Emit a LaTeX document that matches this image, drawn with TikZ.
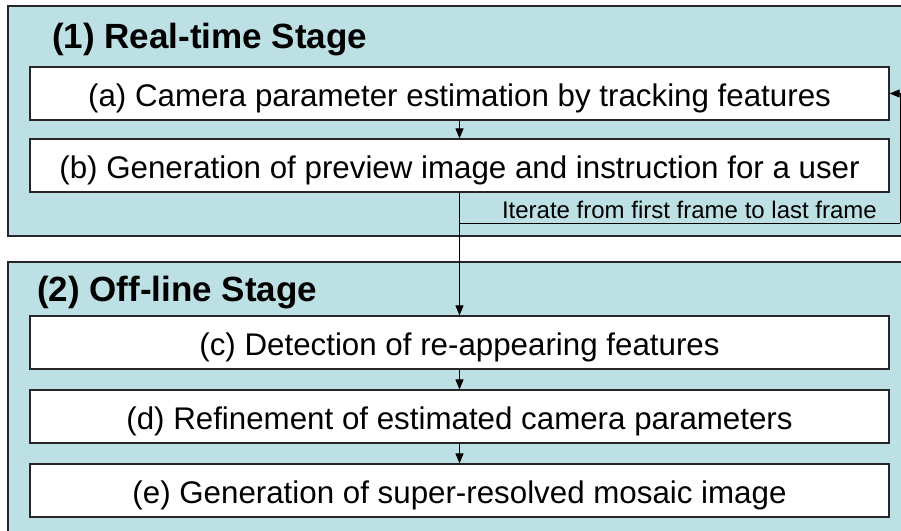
\documentclass[tikz,border=0pt]{standalone}
\usepackage{fontspec}
\setmainfont{Liberation Sans}
\usetikzlibrary{arrows.meta}
\definecolor{stagecyan}{RGB}{188,224,227}
\begin{document}
\begin{tikzpicture}[x=1pt,y=-1pt,
  panel/.style={draw=black!85,line width=1.2pt,fill=stagecyan},
  stepbox/.style={draw=black!85,line width=1.2pt,fill=white,minimum width=859pt,minimum height=53pt,inner sep=0pt,text height=36pt,text depth=10pt,font=\fontsize{31.3}{37}\selectfont},
  stagetitle/.style={anchor=west,inner sep=0pt,font=\fontsize{35}{40}\selectfont\bfseries},
  flow/.style={line width=1pt,-{Triangle[length=10pt,width=8pt]}}]
\useasboundingbox (0,0) rectangle (901,530);
\clip (0,0) rectangle (901,530);
% stages
\draw[panel] (8,6) rectangle (930,236);
\draw[panel] (8,262) rectangle (930,560);
\node[stagetitle] (t1) at (52,40) {(1) Real-time Stage};
\node[stagetitle] (t2) at (37,293) {(2) Off-line Stage};
% steps
\node[stepbox] (a) at (459.5,93.5) {(a) Camera parameter estimation by tracking features};
\node[stepbox] (b) at (459.5,165.5) {(b) Generation of preview image and instruction for a user};
\node[stepbox] (c) at (459.5,342.5) {(c) Detection of re-appearing features};
\node[stepbox] (d) at (459.5,416.5) {(d) Refinement of estimated camera parameters};
\node[stepbox] (e) at (459.5,490.5) {(e) Generation of super-resolved mosaic image};
% arrows
\foreach \from/\to in {a/b,b/c,c/d,d/e}
  \draw[flow] (\from.south) -- (\to.north);
% loop back
\coordinate (split) at (459.5,223);
\coordinate (corner) at (900,223);
\draw[line width=1pt] (split) -- (corner);
\draw[flow] (corner) |- (a.east);
\node[anchor=south east,inner sep=0pt,font=\fontsize{24}{28}\selectfont] (iter) at (877,219) {Iterate from first frame to last frame};
\end{tikzpicture}
\end{document}
